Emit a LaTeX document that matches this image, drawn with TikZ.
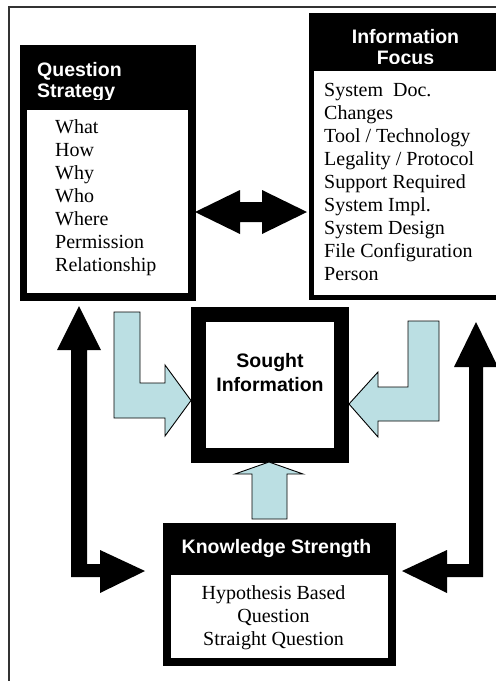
\documentclass[tikz,border=0pt]{standalone}
\usepackage{fontspec}
\setmainfont{Liberation Serif}
\setsansfont{Liberation Sans}
\usetikzlibrary{positioning}
\definecolor{flowblue}{HTML}{BBDFE3}
\definecolor{framegray}{HTML}{333333}

\begin{document}
\begin{tikzpicture}[
  x=1pt, y=-1pt,
  outerbox/.style={fill=black, inner sep=0pt},
  innerbox/.style={fill=white, inner sep=0pt},
  headtext/.style={text=white, inner sep=0pt, font=\sffamily\bfseries\fontsize{19.5}{21}\selectfont},
  itemtext/.style={inner sep=0pt, font=\fontsize{20}{23}\selectfont},
  blockarr/.style={fill=black},
  flowarr/.style={fill=flowblue, draw=black, line width=0.9pt, line join=miter},
]
  \useasboundingbox (0,0) rectangle (496,681);
  \clip (0,0) rectangle (496,681);

  % Frame
  \draw[framegray, line width=1.3pt] (9,690) -- (9,7) -- (505,7);

  % Question strategy
  \node[outerbox, minimum width=176pt, minimum height=256pt] (qs) at (108,173) {};
  \node[innerbox, minimum width=161pt, minimum height=183pt] (qs-list) at (107.5,201.5) {};
  \begin{scope}
    \clip (20,45) rectangle (196,99.5);
    \node[headtext, anchor=base west] (qs-head1) at (37,76) {Question};
    \node[headtext, anchor=base west] (qs-head2) at (37,97) {Strategy};
  \end{scope}
  \foreach \txt [count=\i from 0] in {What,How,Why,Who,Where,Permission,Relationship}
    \node[itemtext, anchor=base west] (qs-\i) at (55,{133.3+23.1*\i}) {\txt};

  % Information focus
  \node[outerbox, minimum width=193pt, minimum height=287pt] (info) at (405.5,156.5) {};
  \node[innerbox, minimum width=183pt, minimum height=224pt] (info-list) at (405.5,183) {};
  \begin{scope}
    \clip (309,13) rectangle (502,63.3);
    \node[headtext, anchor=base] (info-head1) at (405.5,43) {Information};
    \node[headtext, anchor=base] (info-head2) at (405.5,64) {Focus};
  \end{scope}
  \foreach \txt [count=\i from 0] in {System\ \ Doc.,Changes,Tool / Technology,Legality / Protocol,Support Required,System Impl.,System Design,File Configuration,Person}
    \node[itemtext, anchor=base west] (info-\i) at (324,{96.7+23*\i}) {\txt};

  % Sought information
  \node[draw=black, fill=white, line width=15pt, minimum width=143pt, minimum height=141pt] (sought) at (270,385) {};
  \node[headtext, text=black, anchor=base] (sought-1) at (270,367.3) {Sought};
  \node[headtext, text=black, anchor=base] (sought-2) at (270,391) {Information};

  % Knowledge strength
  \node[outerbox, minimum width=233pt, minimum height=143pt] (know) at (279.5,594.5) {};
  \node[innerbox, minimum width=217pt, minimum height=83pt] (know-list) at (279.5,616.5) {};
  \node[headtext, anchor=base] (know-head) at (276.5,553.3) {Knowledge Strength};
  \node[itemtext, anchor=base] (know-1) at (273.5,599) {Hypothesis Based};
  \node[itemtext, anchor=base] (know-2) at (273.5,622.5) {Question};
  \node[itemtext, anchor=base] (know-3) at (273.5,645.5) {Straight Question};

  % Flows into the sought information
  \draw[flowarr] (114,312) -- (140,312) -- (140,383) -- (165,383) -- (165,365) -- (191,400.5)
    -- (165,436) -- (165,418) -- (114,418) -- cycle;
  \draw[flowarr] (408,321) -- (439,321) -- (439,421) -- (378,421) -- (378,437) -- (349,404)
    -- (378,372) -- (378,387) -- (408,387) -- cycle;
  \draw[flowarr] (269,462) -- (303,474) -- (287,474) -- (287,519) -- (252,519) -- (252,474)
    -- (235,474) -- cycle;

  % Links between strategy, focus and knowledge
  \fill[blockarr] (195,212) -- (240,190) -- (240,202) -- (262,202) -- (262,190) -- (307,212)
    -- (262,234) -- (262,222) -- (240,222) -- (240,234) -- cycle;
  \fill[blockarr] (79,306) -- (101,350) -- (87,350) -- (87,564) -- (100,564) -- (100,550)
    -- (145,571) -- (100,593) -- (100,577) -- (71,577) -- (71,350) -- (57,350) -- cycle;
  \fill[blockarr] (476,322) -- (498,367) -- (483,367) -- (483,577) -- (447,577) -- (447,593)
    -- (402,571) -- (447,550) -- (447,564) -- (469,564) -- (469,367) -- (454,367) -- cycle;
\end{tikzpicture}
\end{document}
